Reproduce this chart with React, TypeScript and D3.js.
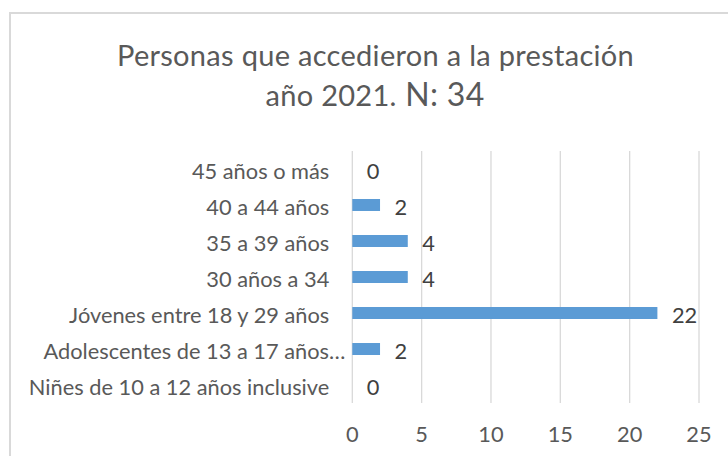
import React from "react";
import * as d3 from "d3";

const categories = [
  "45 años o más",
  "40 a 44 años",
  "35 a 39 años",
  "30 años a 34",
  "Jóvenes entre 18 y 29 años",
  "Adolescentes de 13 a 17 años…",
  "Niñes de 10 a 12 años inclusive",
];
const values = [0, 2, 4, 4, 22, 2, 0];
const xTicks = [0, 5, 10, 15, 20, 25];
const titleLine1 = "Personas que accedieron a la prestación";
const titleLine2a = "año 2021.";
const titleLine2b = " N: 34";

const W = 728;
const H = 456;
const FONT = "Lato, 'Open Sans', sans-serif";
const LABEL = 21.8;

export default function App() {
  const x = d3.scaleLinear().domain([0, 25]).range([352.3, 699]);
  const y = d3
    .scaleBand<string>()
    .domain(categories)
    .range([151, 403])
    .paddingInner(0.667)
    .paddingOuter(0.333);
  const band = d3.scaleBand<string>().domain(categories).range([151, 403]);
  const plotTop = 151;
  const plotBottom = 403;

  return (
    <svg
      width={W}
      height={H}
      style={{ position: "absolute", left: 0, top: 0, background: "#fff" }}
      fontFamily={FONT}
    >
      <rect x={0} y={0} width={W} height={H} fill="#fff" />
      <rect
        x={10}
        y={13}
        width={W + 20}
        height={H + 20}
        fill="#fff"
        stroke="#d9d9d9"
        strokeWidth={2}
      />
      <text
        x={375.5}
        y={66}
        textAnchor="middle"
        fontSize={29}
        letterSpacing={0.3}
        fill="#595959"
      >
        {titleLine1}
      </text>
      <text
        x={375}
        y={106}
        textAnchor="middle"
        letterSpacing={0.3}
        fill="#595959"
      >
        <tspan fontSize={29}>{titleLine2a}</tspan>
        <tspan fontSize={32}>{titleLine2b}</tspan>
      </text>
      {xTicks.map((t) => (
        <g key={t}>
          <line
            x1={x(t)}
            x2={x(t)}
            y1={plotTop}
            y2={plotBottom}
            stroke="#d9d9d9"
            strokeWidth={1.3}
          />
          <text
            x={x(t)}
            y={442}
            textAnchor="middle"
            fontSize={LABEL}
            fill="#595959"
          >
            {t}
          </text>
        </g>
      ))}
      {categories.map((c, i) => {
        const cy = (band(c) as number) + band.bandwidth() / 2;
        const truncated = c.endsWith("…");
        return (
          <g key={c}>
            <rect
              x={x(0)}
              y={y(c)}
              width={x(values[i]) - x(0)}
              height={y.bandwidth()}
              fill="#5b9bd5"
            />
            <text
              x={x(0) - (truncated ? 7 : 23)}
              y={cy + 9.5}
              textAnchor="end"
              fontSize={LABEL}
              fill="#595959"
            >
              {c}
            </text>
            <text
              x={x(values[i]) + 14.5}
              y={cy + 9.7}
              fontSize={LABEL}
              fill="#404040"
            >
              {values[i]}
            </text>
          </g>
        );
      })}
    </svg>
  );
}
